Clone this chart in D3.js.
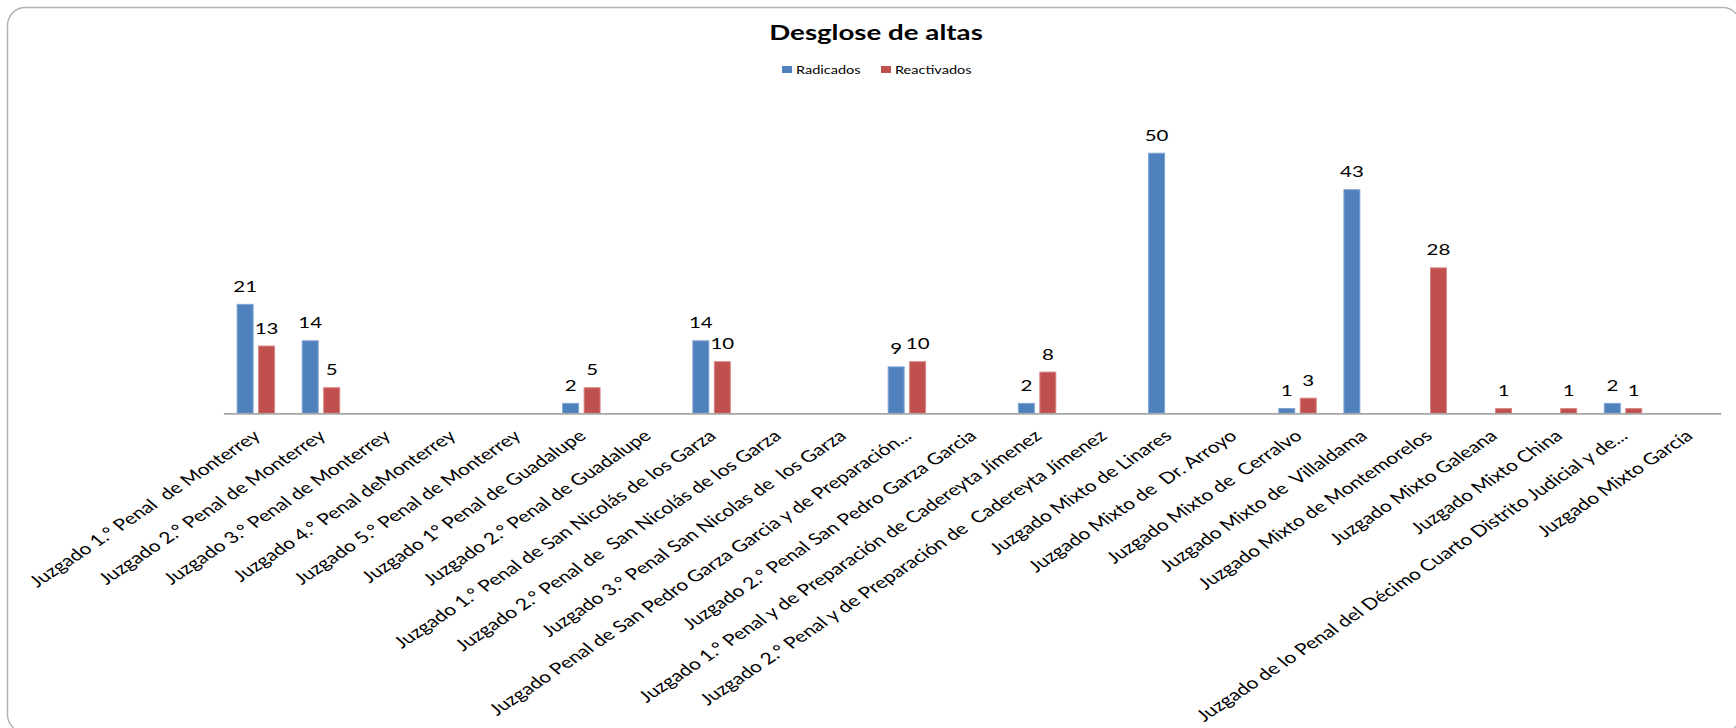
<!DOCTYPE html>
<html>
<head>
<meta charset="utf-8">
<script src="https://cdn.jsdelivr.net/npm/d3@7"></script>
<style>
  html, body { margin: 0; padding: 0; background: #ffffff; }
  svg { display: block; }
  text { font-family: Lato, "Open Sans", sans-serif; fill: #000; white-space: pre; }
</style>
</head>
<body>
<svg id="chart" width="1736" height="728"></svg>
<script>
const categories = [
  "Juzgado 1.° Penal  de Monterrey",
  "Juzgado 2.° Penal de Monterrey",
  "Juzgado 3.° Penal de Monterrey",
  "Juzgado 4.° Penal deMonterrey",
  "Juzgado 5.° Penal de Monterrey",
  "Juzgado 1° Penal de Guadalupe",
  "Juzgado 2.° Penal de Guadalupe",
  "Juzgado 1.° Penal de San Nicolás de los Garza",
  "Juzgado 2.° Penal de  San Nicolás de los Garza",
  "Juzgado 3.° Penal San Nicolas de  los Garza",
  "Juzgado Penal de San Pedro Garza Garcia y de Preparación...",
  "Juzgado 2.° Penal San Pedro Garza Garcia",
  "Juzgado 1.° Penal y de Preparación de Cadereyta Jímenez",
  "Juzgado 2.° Penal y de Preparación de  Cadereyta Jímenez",
  "Juzgado Mixto de Linares",
  "Juzgado Mixto de  Dr. Arroyo",
  "Juzgado Mixto de  Cerralvo",
  "Juzgado Mixto de  Villaldama",
  "Juzgado Mixto de Montemorelos",
  "Juzgado Mixto Galeana",
  "Juzgado Mixto China",
  "Juzgado de lo Penal del Décimo Cuarto Distrito Judicial y de...",
  "Juzgado Mixto García"
];
const radicados = [21, 14, null, null, null, 2, null, 14, null, null, 9, null, 2, null, 50, null, 1, 43, null, null, null, 2, null];
const reactivados = [13, 5, null, null, null, 5, null, 10, null, null, 10, null, 8, null, null, null, 3, null, 28, 1, 1, 1, null];
const seriesNames = ["Radicados", "Reactivados"];
const seriesColors = ["#4F81BD", "#C0504D"];
const seriesStroke = ["#7EA3D3", "#D88482"];
const yDomain = [0, 60];
const chartTitle = "Desglose de altas";

const SX = 1.32;          // horizontal stretch of all text, as in the picture
const LABEL_ROT = -41.5;  // label rotation before the stretch
const svg = d3.select("#chart");

// frame (right side lies just beyond the picture)
svg.append("rect")
  .attr("x", 7.5).attr("y", 7.5)
  .attr("width", 1733).attr("height", 725)
  .attr("rx", 18).attr("ry", 18)
  .attr("fill", "none").attr("stroke", "#b4b4b4").attr("stroke-width", 1.5);

const plot = { left: 223.3, right: 1720.7, top: 100.6, bottom: 413.3 };

const x = d3.scaleBand().domain(categories).range([plot.left, plot.right]).paddingInner(0).paddingOuter(0);
const bw = x.bandwidth();
const x1 = d3.scaleBand().domain(seriesNames)
  .range([bw * 0.205, bw * 0.795]).paddingInner(0.21).paddingOuter(0);
const y = d3.scaleLinear().domain(yDomain).range([plot.bottom, plot.top]);

const rows = categories.map((c, i) => ({ cat: c, vals: [radicados[i], reactivados[i]] }));

// bars and data labels
seriesNames.forEach((s, si) => {
  const data = rows.map(r => ({ cat: r.cat, v: r.vals[si] })).filter(d => d.v != null);
  svg.append("g").selectAll("rect").data(data).join("rect")
    .attr("x", d => x(d.cat) + x1(s) + 0.5)
    .attr("y", d => y(d.v) + 0.5)
    .attr("width", x1.bandwidth() - 1)
    .attr("height", d => y(0) - y(d.v) - 0.5)
    .attr("fill", seriesColors[si])
    .attr("stroke", seriesStroke[si])
    .attr("stroke-width", 1);
  svg.append("g").selectAll("text").data(data).join("text")
    .attr("text-anchor", "middle")
    .attr("font-size", 15.5)
    .attr("transform", d => `translate(${x(d.cat) + x1(s) + x1.bandwidth() / 2},${y(d.v) - 12}) scale(${SX},1)`)
    .text(d => d.v);
});

// x axis
const axis = d3.axisBottom(x).tickSize(0).tickSizeOuter(0);
const ax = svg.append("g").attr("transform", `translate(0,${plot.bottom})`).call(axis);
ax.select(".domain").attr("stroke", "#a6a6a6").attr("stroke-width", 1.8);
ax.selectAll(".tick text")
  .attr("text-anchor", "end")
  .attr("font-family", "Lato, sans-serif")
  .attr("font-size", 16)
  .attr("fill", "#000")
  .style("white-space", "pre")
  .attr("x", null).attr("y", null).attr("dy", "0.35em")
  .attr("transform", `translate(1,20) scale(${SX},1) rotate(${LABEL_ROT})`);

// title
svg.append("text")
  .attr("transform", `translate(876,40) scale(${SX},1)`)
  .attr("text-anchor", "middle")
  .attr("font-size", 21)
  .attr("font-weight", 700)
  .text(chartTitle);

// legend
const legendX = [782, 881];
const leg = svg.append("g").selectAll("g").data(seriesNames).join("g")
  .attr("transform", (d, i) => `translate(${legendX[i]},0)`);
leg.append("rect").attr("x", 0).attr("y", 66).attr("width", 10).attr("height", 7)
  .attr("fill", (d, i) => seriesColors[i]);
leg.append("text")
  .attr("transform", `translate(14,74) scale(${SX},1)`)
  .attr("font-size", 11)
  .text(d => d);
</script>
</body>
</html>
